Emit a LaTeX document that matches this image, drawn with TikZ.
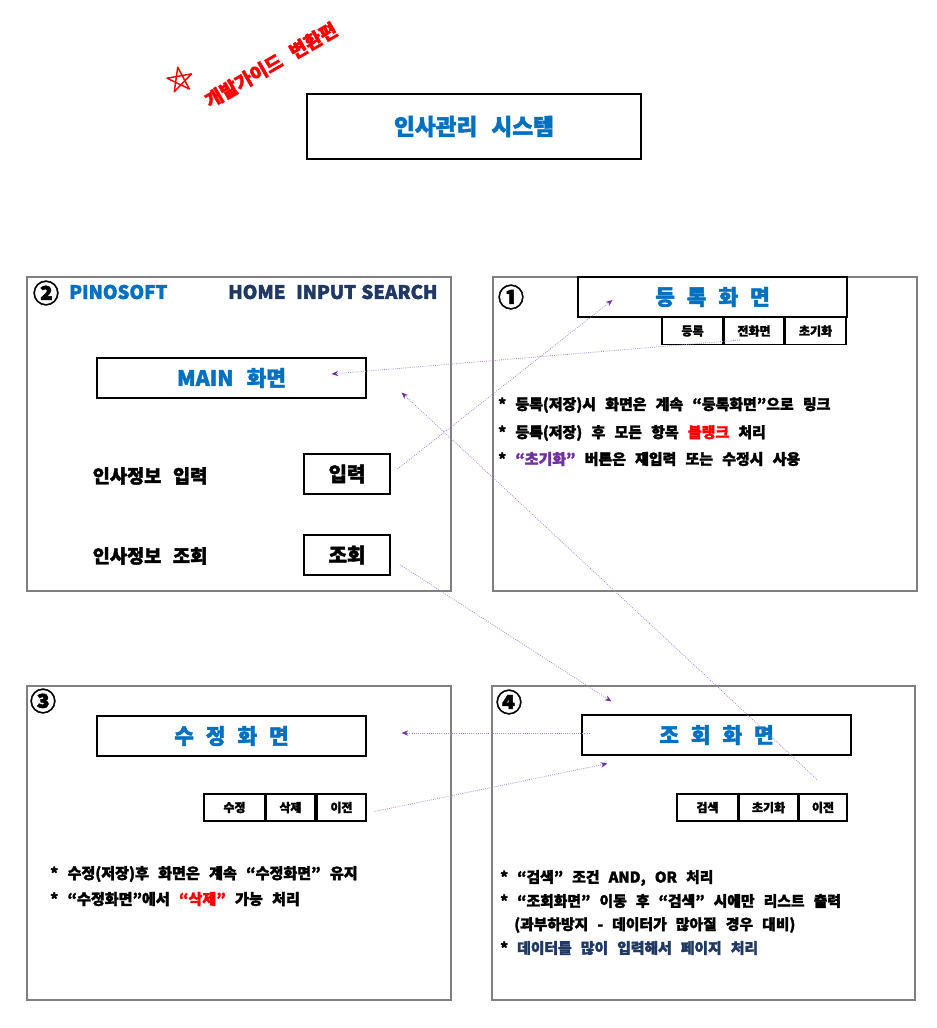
\documentclass[tikz,border=0pt]{standalone}
\usepackage{fontspec}
\setmainfont{Noto Sans CJK KR}[BoldFont={Noto Sans CJK KR Black}, BoldFeatures={FakeBold=2}, WordSpace=2.7]
\usepackage{xcolor}
\definecolor{hdblue}{HTML}{0070C0}
\definecolor{navy}{HTML}{1F3864}
\definecolor{linkpurple}{HTML}{A585D5}
\definecolor{tippurple}{HTML}{7030A0}
\usetikzlibrary{arrows.meta}

\begin{document}
\begin{tikzpicture}[x=0.75pt,y=-0.75pt,
    every node/.style={font=\bfseries, inner sep=0pt},
    panel/.style={draw=gray, line width=0.8pt},
    box/.style={draw, line width=0.8pt, minimum width=269*.75pt, minimum height=40*.75pt},
    btn/.style={draw, line width=0.8pt, minimum height=27*.75pt, font=\bfseries\fontsize{9}{11}\selectfont},
    headline/.style={text=hdblue, font=\bfseries\fontsize{16}{18}\selectfont},
    num/.style={font=\bfseries\fontsize{19.5}{21}\selectfont},
    note/.style={anchor=west, font=\bfseries\fontsize{11.2}{13}\selectfont},
    link/.style={draw=linkpurple, line width=0.6pt, densely dotted, -{Stealth[length=5pt,width=4pt,color=tippurple]}}]
    \fill[white] (0,0) rectangle (937,1028);
    \useasboundingbox (0,0) rectangle (937,1028);
    %
    \draw[red, line width=1.1pt, line join=round, shift={(180,80)}]
        (260:13) -- (44:13) -- (188:13) -- (332:13) -- (116:13) -- cycle;
    \node[rotate=30, text=red, font=\bfseries\fontsize{14}{16}\selectfont] (guide) at (271,65) {개발가이드 변환편};
    %
    \node[draw, line width=0.8pt, minimum width=334*.75pt, minimum height=65*.75pt,
        text=hdblue, font=\bfseries\fontsize{17}{19}\selectfont] (title) at (474,126.5) {인사관리 시스템};
    %
    % panel 2 : main
    \draw[panel] (27,277) rectangle (451,591);
    \node[num] (n2) at (46,293) {②};
    \node[anchor=west, text=hdblue, font=\bfseries\fontsize{14}{16}\selectfont] (pino) at (69,292) {PINOSOFT};
    \node[anchor=west, text=navy, font=\bfseries\fontsize{14}{16}\selectfont] (home) at (228,292) {HOME};
    \node[anchor=west, text=navy, font=\bfseries\fontsize{14}{16}\selectfont] (menu) at (296,292) {INPUT\hspace{4pt}SEARCH};
    \node[box, headline] (mainBox) at (231.5,378) {MAIN 화면};
    \node[font=\bfseries\fontsize{14}{16}\selectfont] (inLabel) at (150,476) {인사정보 입력};
    \node[font=\bfseries\fontsize{14}{16}\selectfont] (qLabel) at (150,556) {인사정보 조회};
    \node[draw, line width=0.8pt, minimum width=86*.75pt, minimum height=40*.75pt,
        font=\bfseries\fontsize{15}{17}\selectfont] (inBtn) at (347,474) {입력};
    \node[draw, line width=0.8pt, minimum width=86*.75pt, minimum height=40*.75pt,
        font=\bfseries\fontsize{15}{17}\selectfont] (qBtn) at (347,555) {조회};
    %
    % panel 1 : register
    \draw[panel] (493,277) rectangle (917,591);
    \node[num] (n1) at (511,297) {①};
    \node[box, headline] (regBox) at (712.5,297) {등\hspace{9pt}록\hspace{9pt}화\hspace{9pt}면};
    \node[btn, minimum width=61*.75pt] (regBtn) at (692.5,331) {등록};
    \node[btn, minimum width=60*.75pt] (jeonBtn) at (754,331) {전화면};
    \node[btn, minimum width=61*.75pt] (initBtn) at (815.5,331) {초기화};
    \node[note] (r1) at (498,405) {* 등록(저장)시 화면은 계속 “등록화면”으로 링크};
    \node[note] (r2) at (498,433) {* 등록(저장) 후 모든 항목 \textcolor{red}{블랭크} 처리};
    \node[note] (r3) at (498,459) {* \textcolor{tippurple}{“초기화”} 버튼은 재입력 또는 수정시 사용};
    %
    % panel 3 : modify
    \draw[panel] (27,686) rectangle (451,1000);
    \node[num] (n3) at (43,701) {③};
    \node[box, headline] (modBox) at (231.5,736) {수\hspace{9pt}정\hspace{9pt}화\hspace{9pt}면};
    \node[btn, minimum width=61*.75pt] (modBtn) at (234.5,807.5) {수정};
    \node[btn, minimum width=49*.75pt] (delBtn) at (290.5,807.5) {삭제};
    \node[btn, minimum width=49*.75pt] (modPrev) at (341.5,807.5) {이전};
    \node[note, font=\bfseries\fontsize{11.3}{13}\selectfont] (m1) at (50,874) {* 수정(저장)후 화면은 계속 “수정화면” 유지};
    \node[note, font=\bfseries\fontsize{11.3}{13}\selectfont] (m2) at (50,899) {* “수정화면”에서 \textcolor{red}{“삭제”} 가능 처리};
    %
    % panel 4 : search
    \draw[panel] (492,686) rectangle (915,1000);
    \node[num] (n4) at (509,702) {④};
    \node[box, headline] (qryBox) at (716.5,735) {조\hspace{9pt}회\hspace{9pt}화\hspace{9pt}면};
    \node[btn, minimum width=61*.75pt] (findBtn) at (707.5,807.5) {검색};
    \node[btn, minimum width=59*.75pt] (clrBtn) at (768.5,807.5) {초기화};
    \node[btn, minimum width=48*.75pt] (qryPrev) at (823,807.5) {이전};
    \node[note, font=\bfseries\fontsize{11.1}{13}\selectfont] (s1) at (500,878) {* “검색” 조건 AND, OR 처리};
    \node[note, font=\bfseries\fontsize{11.1}{13}\selectfont] (s2) at (500,901) {* “조회화면” 이동 후 “검색” 시에만 리스트 출력};
    \node[note, font=\bfseries\fontsize{11.1}{13}\selectfont] (s3) at (514,925) {(과부하방지 - 데이터가 많아질 경우 대비)};
    \node[note, font=\bfseries\fontsize{11.1}{13}\selectfont] (s4) at (500,948) {* \textcolor{navy}{데이터를 많이 입력해서 페이지 처리}};
    %
    % links
    \draw[link] ([shift={(-14,-5)}]jeonBtn.south) -- ([shift={(-35,-4)}]mainBox.east);
    \draw[link] ([shift={(7,-5)}]inBtn.east) -- ([shift={(35,3)}]regBox.west);
    \draw[link] ([shift={(-6,-14)}]qryPrev.north) -- ([shift={(35,-6)}]mainBox.south east);
    \draw[link] ([shift={(10,10)}]qBtn.east) -- ([shift={(30,-13)}]qryBox.north west);
    \draw[link] ([shift={(8,-2)}]qryBox.west) -- ([shift={(35,-3)}]modBox.east);
    \draw[link] ([shift={(8,4)}]modPrev.east) -- ([shift={(26,8)}]qryBox.south west);
\end{tikzpicture}
\end{document}
